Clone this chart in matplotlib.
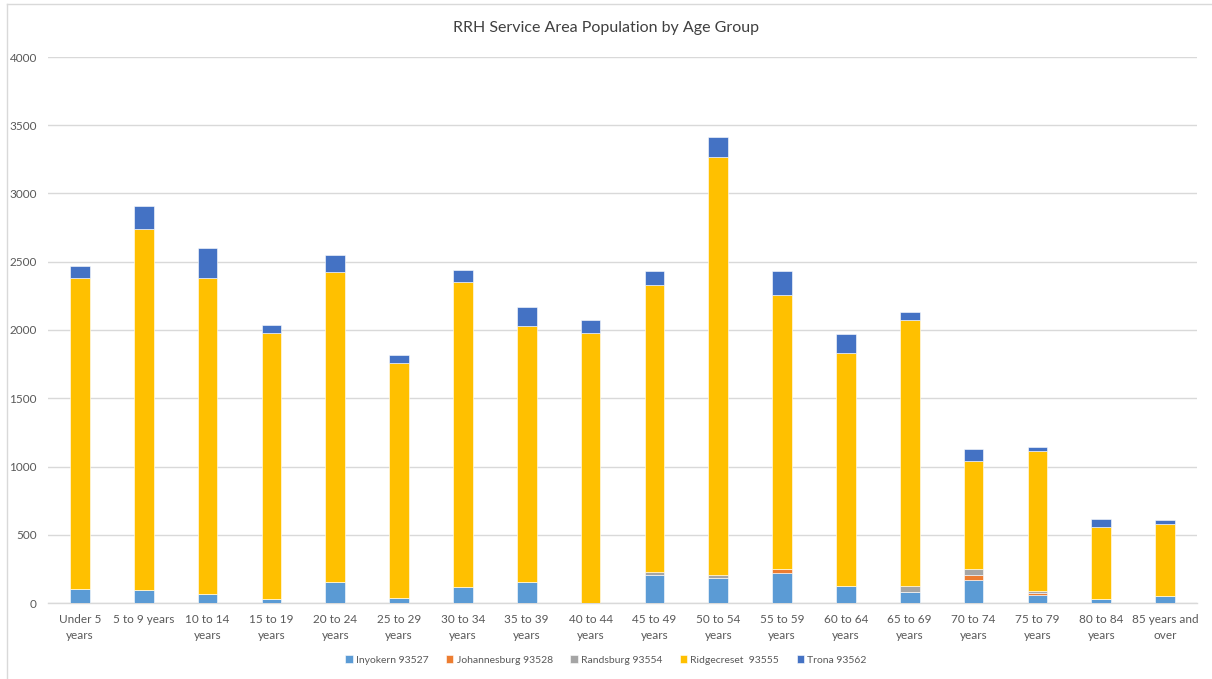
import numpy as np
import matplotlib.pyplot as plt
from matplotlib.lines import Line2D

plt.rcParams['font.family'] = ['Lato', 'DejaVu Sans']

age_groups = ["Under 5\nyears", "5 to 9 years", "10 to 14\nyears", "15 to 19\nyears",
              "20 to 24\nyears", "25 to 29\nyears", "30 to 34\nyears", "35 to 39\nyears",
              "40 to 44\nyears", "45 to 49\nyears", "50 to 54\nyears", "55 to 59\nyears",
              "60 to 64\nyears", "65 to 69\nyears", "70 to 74\nyears", "75 to 79\nyears",
              "80 to 84\nyears", "85 years and\nover"]

inyokern = [105, 97, 68, 29, 154, 39, 117, 154, 0, 208, 186, 222, 127, 78, 171, 61, 29, 54]
johannesburg = [0, 0, 0, 0, 0, 0, 0, 0, 0, 0, 0, 29, 0, 0, 32, 15, 0, 0]
randsburg = [0, 0, 0, 0, 0, 0, 0, 0, 0, 22, 17, 0, 0, 49, 46, 12, 0, 0]
ridgecrest = [2275, 2644, 2314, 1950, 2272, 1720, 2236, 1876, 1979, 2101, 3066, 2007,
              1706, 1947, 792, 1029, 530, 527]
trona = [90, 171, 220, 59, 125, 59, 88, 140, 95, 103, 147, 176, 139, 59, 86, 29, 59, 30]

series = [("Inyokern 93527", inyokern, "#5B9BD5"),
          ("Johannesburg 93528", johannesburg, "#ED7D31"),
          ("Randsburg 93554", randsburg, "#A5A5A5"),
          ("Ridgecreset  93555", ridgecrest, "#FFC000"),
          ("Trona 93562", trona, "#4472C4")]

fig = plt.figure(figsize=(12.12, 6.79), dpi=100)
ax = fig.add_axes([48 / 1212, 1 - 603 / 679, (1197 - 48) / 1212, (603 - 57) / 679])

x = np.arange(len(age_groups))
bottom = np.zeros(len(age_groups))
for name, vals, col in series:
    vals = np.array(vals, dtype=float)
    ax.bar(x, vals, 0.31, bottom=bottom, color=col, label=name,
           edgecolor="white", linewidth=0.4, zorder=3)
    bottom += vals

ax.set_xlim(-0.5, len(age_groups) - 0.5)
ax.set_ylim(0, 4000)
ax.set_yticks(np.arange(0, 4001, 500))
ax.grid(axis="y", color="#D9D9D9", linewidth=1, zorder=0)
for s in ["top", "right", "left"]:
    ax.spines[s].set_visible(False)
ax.spines["bottom"].set_color("#D9D9D9")
ax.spines["bottom"].set_linewidth(1)
ax.set_xticks(x)
ax.set_xticklabels(age_groups, fontsize=8.5, color="#595959", linespacing=1.5)
ax.tick_params(axis="both", length=0, labelcolor="#595959", labelsize=8.5)
ax.tick_params(axis="y", pad=8)
ax.tick_params(axis="x", pad=8)

fig.text(0.5, 1 - 28 / 679, "RRH Service Area Population by Age Group",
         ha="center", va="center", fontsize=11.5, color="#404040")

leg = fig.legend(loc="center", bbox_to_anchor=(0.5, 1 - 660 / 679), ncol=5,
                 frameon=False, fontsize=7.5, handlelength=0.7, handleheight=0.7,
                 handletextpad=0.3, columnspacing=1.7)
for t in leg.get_texts():
    t.set_color("#595959")

# light chart border along the top and left edges
fig.add_artist(Line2D([7 / 1212, 1], [1 - 4 / 679, 1 - 4 / 679], color="#D9D9D9", linewidth=1))
fig.add_artist(Line2D([7 / 1212, 7 / 1212], [0, 1 - 4 / 679], color="#D9D9D9", linewidth=1))

fig.savefig("out.png", dpi=100)
